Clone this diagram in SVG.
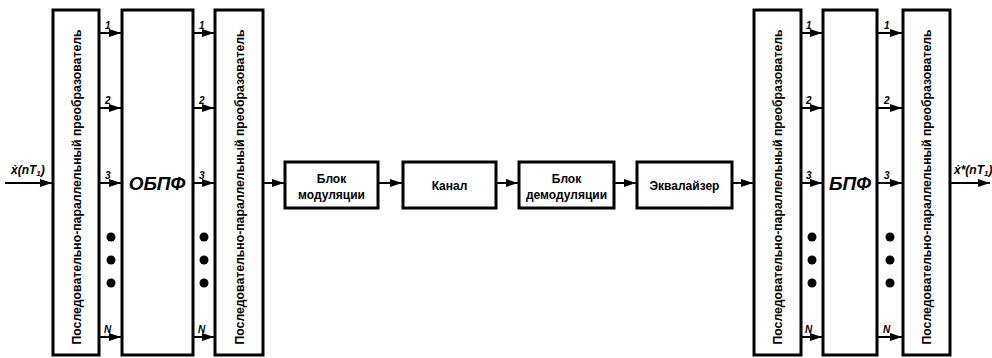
<svg xmlns="http://www.w3.org/2000/svg" width="992" height="358" viewBox="0 0 992 358">
<style>
.blk{fill:#fff;stroke:#000;stroke-width:3}
.ln{stroke:#000;stroke-width:2;fill:none}
.vt{font-family:"Liberation Sans",Arial,sans-serif;font-weight:bold;font-size:13px;text-anchor:middle}
.bt{font-family:"Liberation Sans",Arial,sans-serif;font-weight:bold;font-size:12px;text-anchor:middle}
.big{font-family:"Liberation Sans",Arial,sans-serif;font-weight:bold;font-style:italic;font-size:19px;text-anchor:middle}
.n{font-family:"Liberation Sans",Arial,sans-serif;font-weight:bold;font-style:italic;font-size:10px}
.sig{font-family:"Liberation Sans",Arial,sans-serif;font-weight:bold;font-style:italic;font-size:12px}
</style>
<defs>
<marker id="ah" viewBox="0 0 12 8" refX="12" refY="4" markerWidth="12" markerHeight="8" markerUnits="userSpaceOnUse" orient="auto">
<path d="M0,0 L12,4 L0,8 Z" fill="#000"/>
</marker>
</defs>
<g id="sp1"><rect class="blk" x="53" y="10" width="46" height="345"/><text class="vt" textLength="315" lengthAdjust="spacingAndGlyphs" transform="translate(80.5,187) rotate(-90)">Последовательно-параллельный преобразователь</text></g>
<g id="obpf"><rect class="blk" x="122" y="10" width="71" height="345"/><text class="big" x="157" y="190">ОБПФ</text></g>
<g id="sp2"><rect class="blk" x="215" y="10" width="48" height="345"/><text class="vt" textLength="315" lengthAdjust="spacingAndGlyphs" transform="translate(243.5,187) rotate(-90)">Последовательно-параллельный преобразователь</text></g>
<g id="mod"><rect class="blk" x="285" y="162" width="93" height="46"/><text class="bt" x="331.5" y="183">Блок</text><text class="bt" x="331.5" y="199">модуляции</text></g>
<g id="kanal"><rect class="blk" x="403" y="162" width="93" height="46"/><text class="bt" x="449.5" y="190">Канал</text></g>
<g id="demod"><rect class="blk" x="519" y="162" width="95" height="46"/><text class="bt" x="566.5" y="183">Блок</text><text class="bt" x="566.5" y="199">демодуляции</text></g>
<g id="eq"><rect class="blk" x="637" y="162" width="95" height="46"/><text class="bt" x="684.5" y="190">Эквалайзер</text></g>
<g id="sp3"><rect class="blk" x="754" y="10" width="47" height="345"/><text class="vt" textLength="315" lengthAdjust="spacingAndGlyphs" transform="translate(781.5,187) rotate(-90)">Последовательно-параллельный преобразователь</text></g>
<g id="bpf"><rect class="blk" x="823" y="10" width="54" height="345"/><text class="big" x="850" y="190">БПФ</text></g>
<g id="sp4"><rect class="blk" x="903" y="10" width="47" height="345"/><text class="vt" textLength="315" lengthAdjust="spacingAndGlyphs" transform="translate(930.5,187) rotate(-90)">Последовательно-параллельный преобразователь</text></g>
<g id="connectors">
<line class="ln" x1="5" y1="183" x2="52" y2="183" marker-end="url(#ah)"/>
<text class="sig" x="11" y="174">ẋ(nT<tspan font-size="8" dy="2">1</tspan><tspan dy="-2">)</tspan></text>
<g id="c1">
<line class="ln" x1="100" y1="33" x2="121" y2="33" marker-end="url(#ah)"/>
<line class="ln" x1="100" y1="108" x2="121" y2="108" marker-end="url(#ah)"/>
<line class="ln" x1="100" y1="183" x2="121" y2="183" marker-end="url(#ah)"/>
<line class="ln" x1="100" y1="337" x2="121" y2="337" marker-end="url(#ah)"/>
<text class="n" x="105" y="29">1</text><text class="n" x="105" y="104">2</text><text class="n" x="105" y="179">3</text><text class="n" x="104" y="333">N</text>
<circle cx="111" cy="237" r="4.5"/><circle cx="111" cy="260" r="4.5"/><circle cx="111" cy="283" r="4.5"/>
</g>
<g id="c2">
<line class="ln" x1="194" y1="33" x2="214" y2="33" marker-end="url(#ah)"/>
<line class="ln" x1="194" y1="108" x2="214" y2="108" marker-end="url(#ah)"/>
<line class="ln" x1="194" y1="183" x2="214" y2="183" marker-end="url(#ah)"/>
<line class="ln" x1="194" y1="337" x2="214" y2="337" marker-end="url(#ah)"/>
<text class="n" x="199" y="29">1</text><text class="n" x="199" y="104">2</text><text class="n" x="199" y="179">3</text><text class="n" x="198" y="333">N</text>
<circle cx="204" cy="237" r="4.5"/><circle cx="204" cy="260" r="4.5"/><circle cx="204" cy="283" r="4.5"/>
</g>
<line class="ln" x1="264" y1="183" x2="284" y2="183" marker-end="url(#ah)"/>
<line class="ln" x1="379" y1="183" x2="402" y2="183" marker-end="url(#ah)"/>
<line class="ln" x1="497" y1="183" x2="518" y2="183" marker-end="url(#ah)"/>
<line class="ln" x1="615" y1="183" x2="636" y2="183" marker-end="url(#ah)"/>
<line class="ln" x1="733" y1="183" x2="753" y2="183" marker-end="url(#ah)"/>
<g id="c3">
<line class="ln" x1="802" y1="33" x2="822" y2="33" marker-end="url(#ah)"/>
<line class="ln" x1="802" y1="108" x2="822" y2="108" marker-end="url(#ah)"/>
<line class="ln" x1="802" y1="183" x2="822" y2="183" marker-end="url(#ah)"/>
<line class="ln" x1="802" y1="337" x2="822" y2="337" marker-end="url(#ah)"/>
<text class="n" x="806" y="29">1</text><text class="n" x="806" y="104">2</text><text class="n" x="806" y="179">3</text><text class="n" x="805" y="333">N</text>
<circle cx="812" cy="237" r="4.5"/><circle cx="812" cy="260" r="4.5"/><circle cx="812" cy="283" r="4.5"/>
</g>
<g id="c4">
<line class="ln" x1="878" y1="33" x2="902" y2="33" marker-end="url(#ah)"/>
<line class="ln" x1="878" y1="108" x2="902" y2="108" marker-end="url(#ah)"/>
<line class="ln" x1="878" y1="183" x2="902" y2="183" marker-end="url(#ah)"/>
<line class="ln" x1="878" y1="337" x2="902" y2="337" marker-end="url(#ah)"/>
<text class="n" x="884" y="29">1</text><text class="n" x="884" y="104">2</text><text class="n" x="884" y="179">3</text><text class="n" x="883" y="333">N</text>
<circle cx="890" cy="237" r="4.5"/><circle cx="890" cy="260" r="4.5"/><circle cx="890" cy="283" r="4.5"/>
</g>
<line class="ln" x1="951" y1="183" x2="990" y2="183" marker-end="url(#ah)"/>
<text class="sig" x="954" y="174">ẋ*(nT<tspan font-size="8" dy="2">1</tspan><tspan dy="-2">)</tspan></text>
</g>
</svg>
